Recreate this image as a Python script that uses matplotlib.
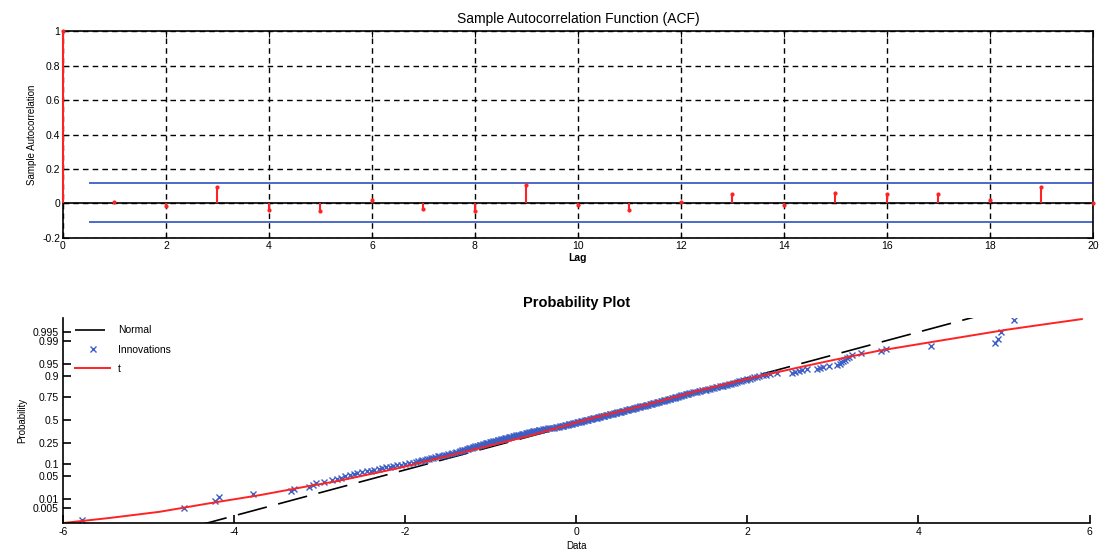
import matplotlib
matplotlib.use('Agg')
import matplotlib.pyplot as plt
import numpy as np
from statistics import NormalDist

plt.rcParams['font.family'] = ['Liberation Sans', 'DejaVu Sans']
plt.rcParams['axes.unicode_minus'] = False

# ACF panel
lags = np.arange(0, 21)
acf_vals = [1.0, 0.01, -0.018, 0.097, -0.038, -0.047, 0.02, -0.034, -0.047, 0.107,
            -0.009, -0.038, 0.01, 0.055, -0.009, 0.059, 0.055, 0.053, 0.02, 0.097, 0.003]
conf_upper = 0.118
conf_lower = -0.108

# probability plot panel: sorted innovations
innovations = [
    -5.78, -4.58, -4.22, -4.18, -3.78, -3.33, -3.30, -3.12, -3.08, -3.04,
    -2.95, -2.85, -2.80, -2.75, -2.70, -2.65, -2.60, -2.56, -2.51, -2.45,
    -2.40, -2.36, -2.31, -2.27, -2.22, -2.18, -2.14, -2.09, -2.05, -2.00,
    -1.96, -1.91, -1.87, -1.85, -1.82, -1.80, -1.77, -1.75, -1.72, -1.70,
    -1.67, -1.65, -1.62, -1.60, -1.57, -1.55, -1.52, -1.50, -1.47, -1.45,
    -1.42, -1.40, -1.37, -1.36, -1.34, -1.33, -1.31, -1.30, -1.28, -1.27,
    -1.25, -1.24, -1.22, -1.21, -1.19, -1.18, -1.16, -1.15, -1.13, -1.12,
    -1.10, -1.09, -1.07, -1.06, -1.04, -1.03, -1.01, -1.00, -0.98, -0.97,
    -0.95, -0.94, -0.92, -0.91, -0.89, -0.88, -0.86, -0.85, -0.83, -0.82,
    -0.80, -0.79, -0.77, -0.76, -0.74, -0.73, -0.71, -0.70, -0.68, -0.67,
    -0.65, -0.64, -0.62, -0.61, -0.59, -0.58, -0.56, -0.55, -0.53, -0.52,
    -0.50, -0.49, -0.47, -0.46, -0.44, -0.43, -0.41, -0.39, -0.37, -0.35,
    -0.33, -0.31, -0.28, -0.26, -0.24, -0.22, -0.20, -0.19, -0.17, -0.16,
    -0.15, -0.13, -0.12, -0.10, -0.09, -0.08, -0.06, -0.05, -0.04, -0.02,
    -0.01, 0.01, 0.02, 0.03, 0.05, 0.06, 0.07, 0.09, 0.10, 0.12,
    0.13, 0.14, 0.16, 0.17, 0.18, 0.20, 0.21, 0.23, 0.24, 0.25,
    0.27, 0.28, 0.29, 0.31, 0.32, 0.33, 0.35, 0.36, 0.37, 0.39,
    0.40, 0.42, 0.43, 0.44, 0.46, 0.47, 0.48, 0.50, 0.51, 0.52,
    0.54, 0.55, 0.56, 0.58, 0.59, 0.61, 0.62, 0.63, 0.65, 0.66,
    0.67, 0.69, 0.70, 0.71, 0.73, 0.74, 0.75, 0.77, 0.78, 0.80,
    0.81, 0.83, 0.84, 0.86, 0.87, 0.89, 0.90, 0.91, 0.93, 0.94,
    0.96, 0.97, 0.99, 1.00, 1.02, 1.03, 1.04, 1.06, 1.07, 1.09,
    1.10, 1.12, 1.13, 1.15, 1.16, 1.17, 1.19, 1.20, 1.22, 1.23,
    1.25, 1.26, 1.28, 1.29, 1.31, 1.32, 1.34, 1.36, 1.39, 1.41,
    1.43, 1.45, 1.47, 1.50, 1.52, 1.54, 1.56, 1.59, 1.61, 1.63,
    1.65, 1.68, 1.70, 1.72, 1.74, 1.76, 1.79, 1.81, 1.83, 1.85,
    1.88, 1.90, 1.93, 1.95, 1.98, 2.00, 2.03, 2.06, 2.08, 2.11,
    2.14, 2.18, 2.22, 2.27, 2.35, 2.52, 2.56, 2.60, 2.64, 2.70,
    2.82, 2.85, 2.88, 2.96, 3.05, 3.08, 3.10, 3.12, 3.14, 3.16,
    3.19, 3.22, 3.33, 3.56, 3.62, 4.15, 4.90, 4.93, 4.96, 5.12,
]

# fitted normal
normal_mu = 0.17
normal_sigma = 1.48

# fitted t distribution cdf
t_x = [-6.0, -5.45, -4.87, -4.29, -3.70, -3.12, -2.80, -2.07, -1.29, -0.51,
       0.10, 0.74, 1.44, 2.02, 2.57, 3.00, 3.54, 4.12, 5.02, 5.40, 5.91]
t_prob = [0.00122, 0.00199, 0.00347, 0.00714, 0.01355, 0.0262, 0.0359, 0.0793,
          0.1762, 0.330, 0.5, 0.655, 0.808, 0.889, 0.937, 0.961, 0.9793,
          0.9887, 0.9960, 0.99736, 0.99851]

prob_ticks = [0.005, 0.01, 0.05, 0.1, 0.25, 0.5, 0.75, 0.9, 0.95, 0.99, 0.995]
prob_labels = ['0.005', '0.01', '0.05', '0.1', '0.25', '0.5', '0.75', '0.9', '0.95', '0.99', '0.995']

red = '#ff2222'
blue = '#3d5fc4'

nd = NormalDist()
_inv = np.vectorize(nd.inv_cdf, otypes=[float])
_cdf = np.vectorize(nd.cdf, otypes=[float])


def p_to_z(p):
    p = np.clip(np.asarray(p, dtype=float), 1e-12, 1 - 1e-12)
    return _inv(p)


def z_to_p(z):
    return _cdf(np.asarray(z, dtype=float))


fig = plt.figure(figsize=(11.05, 5.57), dpi=100)

# ---- top: ACF ----
ax1 = fig.add_axes([0.057, 0.573, 0.932, 0.371])
ax1.set_xlim(0, 20)
ax1.set_ylim(-0.2, 1)
ax1.vlines(lags, 0, acf_vals, color=red, lw=1.5, zorder=5, clip_on=False)
ax1.plot(lags, acf_vals, 'o', color=red, ms=2, zorder=6, clip_on=False)
ax1.axhline(0, color='black', lw=1.2, zorder=2)
ax1.hlines([conf_upper, conf_lower], 0.5, 20, color=blue, lw=1.3, zorder=2)
ax1.set_xticks(np.arange(0, 21, 2))
ax1.set_yticks([-0.2, 0, 0.2, 0.4, 0.6, 0.8, 1])
ax1.set_yticklabels(['-0.2', '0', '0.2', '0.4', '0.6', '0.8', '1'])
ax1.grid(True, color='black', ls=(0, (4, 3)), lw=1.0)
ax1.tick_params(direction='in', top=True, right=True, length=4, labelsize=7.5, pad=2)
for s in ax1.spines.values():
    s.set_linewidth(1.2)
ax1.set_title('Sample Autocorrelation Function (ACF)', fontsize=10, pad=6)
ax1.set_xlabel('Lag', fontsize=7.5, fontweight='bold', labelpad=2)
ax1.set_ylabel('Sample Autocorrelation', fontsize=7, labelpad=4)

# ---- bottom: probability plot ----
ax2 = fig.add_axes([0.057, 0.061, 0.929, 0.368])
ax2.set_yscale('function', functions=(p_to_z, z_to_p))
n = len(innovations)
positions = (np.arange(1, n + 1) - 0.5) / n
xline = np.array([-6.0, 6.0])
ax2.plot(xline, z_to_p((xline - normal_mu) / normal_sigma), color='black',
         lw=1.2, dashes=(18, 7), label='Normal')
ax2.plot(innovations, positions, 'x', color=blue, ms=4, mew=1.0, label='Innovations')
ax2.plot(t_x, t_prob, color=red, lw=1.4, label='t')
ax2.set_xlim(-6, 6)
ax2.set_ylim(float(z_to_p(-3.03)), float(z_to_p(3.0)))
ax2.set_xticks(np.arange(-6, 7, 2))
ax2.set_yticks(prob_ticks)
ax2.set_yticklabels(prob_labels)
ax2.minorticks_off()
ax2.spines['top'].set_visible(False)
ax2.spines['right'].set_visible(False)
for s in ax2.spines.values():
    s.set_linewidth(1.2)
ax2.tick_params(direction='in', length=6, width=1.2, labelsize=7.5, pad=3)
ax2.set_title('Probability Plot', fontsize=10.5, fontweight='bold', pad=8)
ax2.set_xlabel('Data', fontsize=7, labelpad=3)
ax2.set_ylabel('Probability', fontsize=7, labelpad=4)
ax2.legend(loc='upper left', frameon=False, fontsize=7.5, handlelength=3.3,
           borderaxespad=0.3, labelspacing=0.9, bbox_to_anchor=(0.005, 1.0))

fig.savefig('out.png', dpi=100)
